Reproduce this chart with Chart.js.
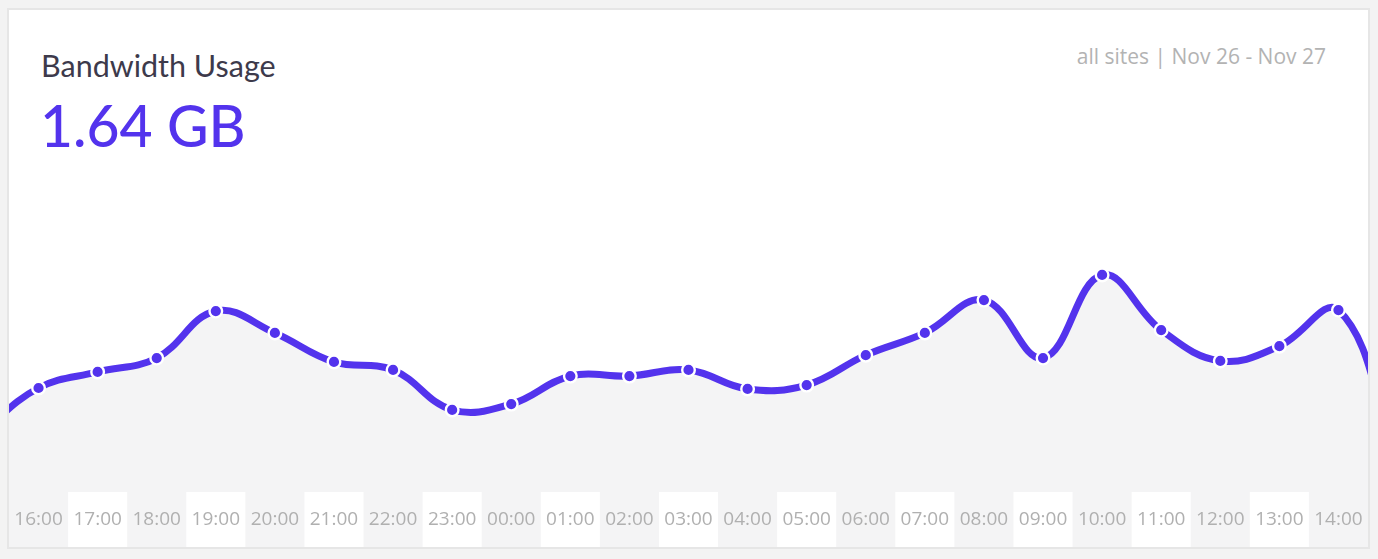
<!DOCTYPE html>
<html>
<head>
<meta charset="utf-8">
<script src="https://cdn.jsdelivr.net/npm/chart.js@4.4.0/dist/chart.umd.min.js"></script>
<style>
    body { margin: 0; background: #f3f3f3; width: 1378px; height: 559px; overflow: hidden; }
    .card {
        position: absolute; left: 7px; top: 8px; width: 1359px; height: 537px;
        background: #fff; border: 2px solid #e6e6e6;
    }
    .title { position: absolute; left: 32px; top: 37px; font: 400 30.5px Lato, sans-serif; color: #3d3a4b; }
    .total { position: absolute; left: 31px; top: 81px; font: 500 57px Lato, sans-serif; color: #5333ed; }
    .range { position: absolute; right: 42px; top: 32px; font: 400 21px "Open Sans", sans-serif; color: #b3b3b3; }
    .wrap { position: absolute; left: 0; top: 160px; width: 1359px; height: 377px; }
</style>
</head>
<body>
<div class="card">
    <div class="title">Bandwidth Usage</div>
    <div class="total">1.64 GB</div>
    <div class="range">all sites | Nov 26 - Nov 27</div>
    <div class="wrap"><canvas id="bandwidth"></canvas></div>
</div>
<script>
// hours, with one extra hour on each side (drawn off the edges)
const hours = ['15:00', '16:00', '17:00', '18:00', '19:00', '20:00', '21:00', '22:00', '23:00',
    '00:00', '01:00', '02:00', '03:00', '04:00', '05:00', '06:00', '07:00', '08:00',
    '09:00', '10:00', '11:00', '12:00', '13:00', '14:00', '15:00'];
// usage per hour (MB, estimated)
const usage = [18, 32.3, 37.3, 41.6, 56.2, 49.4, 40.4, 37.9, 25.5, 27.3, 36.0, 36.0, 37.9,
    32.0, 33.2, 42.5, 49.4, 59.6, 41.6, 67.4, 50.3, 40.7, 45.3, 56.5, 10];

const purple = '#5333ed';
const fillGrey = '#f4f4f5';

// grey band under the chart with white stripes behind every other hour
const stripes = {
    id: 'stripes',
    beforeDraw(chart) {
        const {ctx, chartArea, scales} = chart;
        const x = scales.x;
        ctx.save();
        ctx.fillStyle = fillGrey;
        ctx.fillRect(chartArea.left, chartArea.bottom, chartArea.right - chartArea.left, chart.height - chartArea.bottom);
        ctx.fillStyle = '#fff';
        for (let i = 1; i < hours.length - 1; i++) {
            if ((i - 1) % 2 === 1) {
                const l = x.getPixelForValue(i - 1.5);
                const r = x.getPixelForValue(i - 0.5);
                ctx.fillRect(l, chartArea.bottom, r - l, chart.height - chartArea.bottom);
            }
        }
        ctx.restore();
    }
};

const canvas = document.getElementById('bandwidth');
new Chart(canvas, {
    type: 'line',
    data: {
        datasets: [{
            data: usage.map((v, i) => ({x: i - 1, y: v})),
            borderColor: purple,
            borderWidth: 7,
            backgroundColor: fillGrey,
            fill: 'origin',
            tension: 0.4,
            pointRadius: 6.3,
            pointBorderWidth: 2.4,
            pointBackgroundColor: purple,
            pointBorderColor: '#fff'
        }]
    },
    options: {
        animation: false,
        responsive: true,
        maintainAspectRatio: false,
        layout: { padding: 0, autoPadding: false },
        plugins: { legend: { display: false }, tooltip: { enabled: false } },
        scales: {
            x: {
                type: 'linear',
                min: -0.5,
                max: 22.5,
                afterBuildTicks: scale => {
                    scale.ticks = hours.slice(1, -1).map((h, i) => ({value: i}));
                },
                afterFit: scale => {
                    scale.height = 55;
                    scale.paddingLeft = 0;
                    scale.paddingRight = 0;
                },
                grid: { display: false, drawTicks: false },
                border: { display: false },
                ticks: {
                    padding: 16,
                    maxRotation: 0,
                    autoSkip: false,
                    color: '#b0b0b0',
                    font: { family: 'Open Sans', size: 19 },
                    callback: v => hours[v + 1]
                }
            },
            y: {
                display: false,
                min: 0,
                max: 100
            }
        }
    },
    plugins: [stripes]
});
</script>
</body>
</html>
